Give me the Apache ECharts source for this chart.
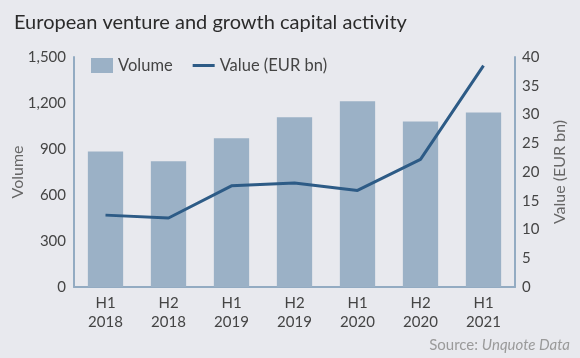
<!DOCTYPE html>
<html><head><meta charset="utf-8">
<script src="https://cdn.jsdelivr.net/npm/echarts@6/dist/echarts.min.js"></script>
<style>html,body{margin:0;padding:0;background:#e8e9ee}#c{width:580px;height:358px}</style>
</head><body><div id="c"></div>
<script>
var categories = ['H1\n2018','H2\n2018','H1\n2019','H2\n2019','H1\n2020','H2\n2020','H1\n2021'];
var volume = [884, 820, 970, 1107, 1212, 1079, 1138];
var value = [12.5, 12.0, 17.6, 18.1, 16.8, 22.2, 38.5];
var leftTicks = {min: 0, max: 1500, interval: 300};
var rightTicks = {min: 0, max: 40, interval: 5};

var chart = echarts.init(document.getElementById('c'));
var axisCol = '#93abc2';
var font = 'Lato';
chart.setOption({
  backgroundColor: '#e8e9ee',
  animation: false,
  title: [{
    text: 'European venture and growth capital activity',
    left: 9, top: 8,
    textStyle: {fontFamily: font, fontSize: 20, fontWeight: 'normal', color: '#2b2b2b'}
  }, {
    text: '{a|Source: }{b|Unquote Data}',
    right: 5, top: 333,
    textStyle: {fontWeight: 'normal', rich: {
      a: {fontFamily: font, fontSize: 15, color: '#9a9a9a', fontWeight: 'normal'},
      b: {fontFamily: font, fontSize: 15, color: '#9a9a9a', fontStyle: 'italic', fontWeight: 'normal'}
    }}
  }],
  legend: {
    left: 86, top: 52,
    itemGap: 20, itemWidth: 22, itemHeight: 15,
    textStyle: {fontFamily: font, fontSize: 16.5, color: '#444'},
    data: [{name: 'Volume', icon: 'rect'}, {name: 'Value (EUR bn)', icon: 'path://M0,0H22V3H0Z'}]
  },
  grid: {left: 74, right: 65, top: 57, bottom: 71, outerBoundsMode: 'none', containLabel: false},
  xAxis: {
    type: 'category', data: categories,
    axisLine: {lineStyle: {color: axisCol, width: 2}},
    axisTick: {show: false},
    axisLabel: {fontFamily: font, fontSize: 15, color: '#444', lineHeight: 19, margin: 7}
  },
  yAxis: [{
    type: 'value', min: leftTicks.min, max: leftTicks.max, interval: leftTicks.interval,
    name: 'Volume', nameLocation: 'middle', nameGap: 48, nameRotate: 90, nameMoveOverlap: false,
    nameTextStyle: {fontFamily: font, fontSize: 16, color: '#666'},
    axisLine: {show: true, lineStyle: {color: axisCol, width: 2}},
    axisTick: {show: false}, splitLine: {show: false},
    axisLabel: {fontFamily: font, fontSize: 15, color: '#444', margin: 8,
      formatter: function(v){return v.toLocaleString('en-US');}}
  }, {
    type: 'value', min: rightTicks.min, max: rightTicks.max, interval: rightTicks.interval,
    name: 'Value (EUR bn)', nameLocation: 'middle', nameGap: 37, nameRotate: 90, nameMoveOverlap: false,
    nameTextStyle: {fontFamily: font, fontSize: 16, color: '#666'},
    axisLine: {show: true, lineStyle: {color: axisCol, width: 2}},
    axisTick: {show: false}, splitLine: {show: false},
    axisLabel: {fontFamily: font, fontSize: 15, color: '#444', margin: 7}
  }],
  series: [{
    name: 'Volume', type: 'bar', data: volume, yAxisIndex: 0,
    barCategoryGap: '44%',
    itemStyle: {color: '#9bb1c6'}
  }, {
    name: 'Value (EUR bn)', type: 'line', data: value, yAxisIndex: 1,
    symbol: 'none', lineStyle: {color: '#2d5b86', width: 3},
    itemStyle: {color: '#2d5b86'}
  }]
});
</script></body></html>
